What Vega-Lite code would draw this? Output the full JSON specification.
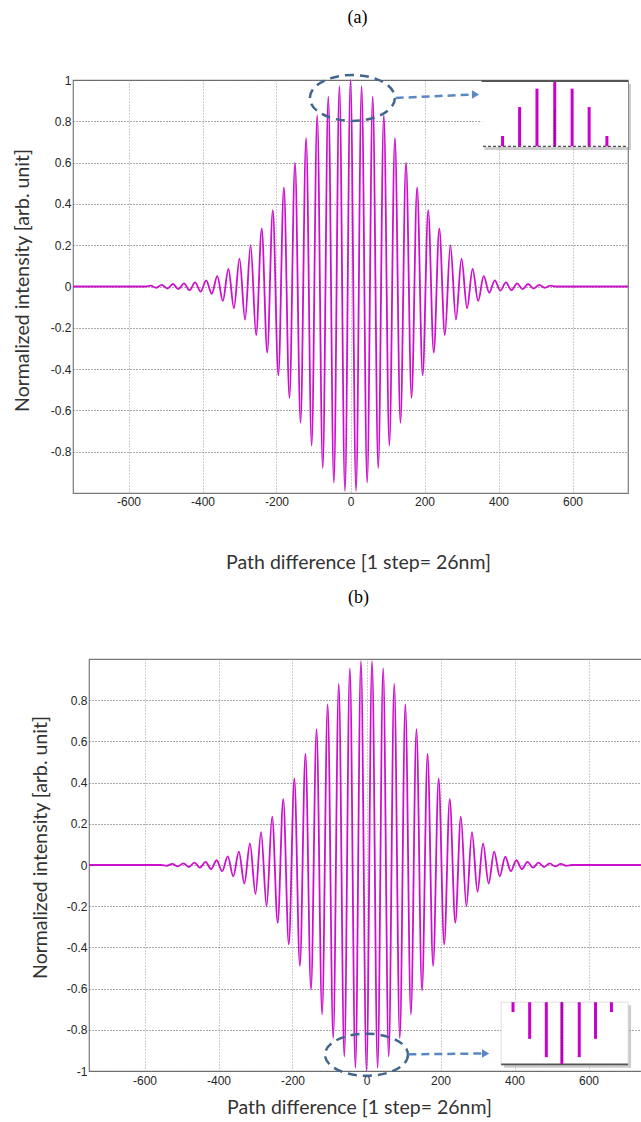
{
  "$schema": "https://vega.github.io/schema/vega-lite/v6.json",
  "background": "white",
  "padding": {"top": 8, "left": 3, "right": 0, "bottom": 0},
  "columns": 1,
  "bounds": "full",
  "spacing": 15,
  "config": {
    "view": {"stroke": "#7a7a7a", "strokeWidth": 1.2},
    "axis": {
      "labelFont": "Liberation Sans", "labelFontSize": 12, "labelColor": "#262626",
      "titleFont": "Lato", "titleFontSize": 19.5, "titleFontWeight": "normal", "titleColor": "#333333",
      "ticks": false, "domain": false, "grid": true, "gridDash": [1, 2], "gridColor": "#555555", "gridOpacity": 1, "gridWidth": 1
    },
    "axisX": {"gridColor": "#9a9a9a"},
    "title": {"font": "Liberation Serif", "fontSize": 18, "fontWeight": "normal", "color": "#000000"}
  },
  "datasets": {
    "a": [
      {"x": -750, "y": 0}, {"x": -555, "y": 0}, {"x": -540, "y": 0.004}, {"x": -525, "y": -0.006}, {"x": -510, "y": 0.008},
      {"x": -495, "y": -0.01}, {"x": -480, "y": 0.012}, {"x": -465, "y": -0.013}, {"x": -450, "y": 0.015}, {"x": -435, "y": -0.018},
      {"x": -420, "y": 0.02}, {"x": -405, "y": -0.025}, {"x": -390, "y": 0.03}, {"x": -375, "y": -0.035}, {"x": -360, "y": 0.05},
      {"x": -345, "y": -0.07}, {"x": -330, "y": 0.085}, {"x": -315, "y": -0.105}, {"x": -300, "y": 0.135}, {"x": -285, "y": -0.16},
      {"x": -270, "y": 0.2}, {"x": -255, "y": -0.235}, {"x": -240, "y": 0.28}, {"x": -225, "y": -0.32}, {"x": -210, "y": 0.37},
      {"x": -195, "y": -0.43}, {"x": -180, "y": 0.48}, {"x": -165, "y": -0.54}, {"x": -150, "y": 0.6}, {"x": -135, "y": -0.66},
      {"x": -120, "y": 0.72}, {"x": -105, "y": -0.77}, {"x": -90, "y": 0.83}, {"x": -75, "y": -0.88}, {"x": -60, "y": 0.92},
      {"x": -45, "y": -0.95}, {"x": -30, "y": 0.97}, {"x": -15, "y": -0.99}, {"x": 0, "y": 1},
      {"x": 15, "y": -0.99}, {"x": 30, "y": 0.97}, {"x": 45, "y": -0.95}, {"x": 60, "y": 0.92}, {"x": 75, "y": -0.88},
      {"x": 90, "y": 0.83}, {"x": 105, "y": -0.77}, {"x": 120, "y": 0.72}, {"x": 135, "y": -0.66}, {"x": 150, "y": 0.6},
      {"x": 165, "y": -0.54}, {"x": 180, "y": 0.48}, {"x": 195, "y": -0.43}, {"x": 210, "y": 0.37}, {"x": 225, "y": -0.32},
      {"x": 240, "y": 0.28}, {"x": 255, "y": -0.235}, {"x": 270, "y": 0.2}, {"x": 285, "y": -0.16}, {"x": 300, "y": 0.135},
      {"x": 315, "y": -0.105}, {"x": 330, "y": 0.085}, {"x": 345, "y": -0.07}, {"x": 360, "y": 0.05}, {"x": 375, "y": -0.03},
      {"x": 390, "y": 0.03}, {"x": 405, "y": -0.02}, {"x": 420, "y": 0.02}, {"x": 435, "y": -0.018}, {"x": 450, "y": 0.015},
      {"x": 465, "y": -0.013}, {"x": 480, "y": 0.012}, {"x": 495, "y": -0.01}, {"x": 510, "y": 0.008}, {"x": 525, "y": -0.006},
      {"x": 540, "y": 0.004}, {"x": 555, "y": 0}, {"x": 750, "y": 0}
    ],
    "b": [
      {"x": -750, "y": 0}, {"x": -555, "y": 0}, {"x": -540, "y": -0.004}, {"x": -525, "y": 0.005}, {"x": -510, "y": -0.007},
      {"x": -495, "y": 0.008}, {"x": -480, "y": -0.01}, {"x": -465, "y": 0.012}, {"x": -450, "y": -0.013}, {"x": -435, "y": 0.015},
      {"x": -420, "y": -0.02}, {"x": -405, "y": 0.023}, {"x": -390, "y": -0.03}, {"x": -375, "y": 0.042}, {"x": -360, "y": -0.055},
      {"x": -345, "y": 0.065}, {"x": -330, "y": -0.09}, {"x": -315, "y": 0.105}, {"x": -300, "y": -0.14}, {"x": -285, "y": 0.16},
      {"x": -270, "y": -0.2}, {"x": -255, "y": 0.235}, {"x": -240, "y": -0.28}, {"x": -225, "y": 0.32}, {"x": -210, "y": -0.385},
      {"x": -195, "y": 0.42}, {"x": -180, "y": -0.49}, {"x": -165, "y": 0.54}, {"x": -150, "y": -0.605}, {"x": -135, "y": 0.66},
      {"x": -120, "y": -0.725}, {"x": -105, "y": 0.78}, {"x": -90, "y": -0.84}, {"x": -75, "y": 0.88}, {"x": -60, "y": -0.93},
      {"x": -45, "y": 0.955}, {"x": -30, "y": -0.985}, {"x": -15, "y": 0.99}, {"x": 0, "y": -1},
      {"x": 15, "y": 0.99}, {"x": 30, "y": -0.985}, {"x": 45, "y": 0.955}, {"x": 60, "y": -0.93}, {"x": 75, "y": 0.88},
      {"x": 90, "y": -0.84}, {"x": 105, "y": 0.78}, {"x": 120, "y": -0.725}, {"x": 135, "y": 0.66}, {"x": 150, "y": -0.61},
      {"x": 165, "y": 0.54}, {"x": 180, "y": -0.49}, {"x": 195, "y": 0.42}, {"x": 210, "y": -0.385}, {"x": 225, "y": 0.32},
      {"x": 240, "y": -0.28}, {"x": 255, "y": 0.235}, {"x": 270, "y": -0.2}, {"x": 285, "y": 0.16}, {"x": 300, "y": -0.13},
      {"x": 315, "y": 0.105}, {"x": 330, "y": -0.09}, {"x": 345, "y": 0.065}, {"x": 360, "y": -0.055}, {"x": 375, "y": 0.04},
      {"x": 390, "y": -0.03}, {"x": 405, "y": 0.023}, {"x": 420, "y": -0.02}, {"x": 435, "y": 0.015}, {"x": 450, "y": -0.013},
      {"x": 465, "y": 0.012}, {"x": 480, "y": -0.01}, {"x": 495, "y": 0.008}, {"x": 510, "y": -0.007}, {"x": 525, "y": 0.005},
      {"x": 540, "y": -0.004}, {"x": 555, "y": 0}, {"x": 750, "y": 0}
    ],
    "insetBoxA": [{"x": 354, "x2": 750, "y": 0.675, "y2": 0.995}],
    "insetTopA": [{"x": 354, "x2": 750, "y": 0.995}],
    "insetBaseA": [{"x": 358, "x2": 750, "y": 0.679}],
    "spikesA": [
      {"x": 411, "y": 0.679, "y2": 0.729}, {"x": 457, "y": 0.679, "y2": 0.869}, {"x": 504, "y": 0.679, "y2": 0.958},
      {"x": 552, "y": 0.679, "y2": 0.99}, {"x": 599, "y": 0.679, "y2": 0.958}, {"x": 645, "y": 0.679, "y2": 0.869},
      {"x": 693, "y": 0.679, "y2": 0.729}
    ],
    "centerA": [{"x": 552, "y": 0.679, "y2": 0.86}],
    "ellipseA": [{"x": 5, "y": 0.913}],
    "arrowA": [{"x": 122, "x2": 334, "y": 0.913, "y2": 0.93}],
    "headA": [{"x": 338, "y": 0.93}],
    "insetBoxB": [{"x": 364, "x2": 707, "y": -0.97, "y2": -0.666}],
    "insetBaseB": [{"x": 364, "x2": 707, "y": -0.968}],
    "spikesB": [
      {"x": 396, "y": -0.666, "y2": -0.714}, {"x": 441, "y": -0.666, "y2": -0.844}, {"x": 486, "y": -0.666, "y2": -0.933},
      {"x": 528, "y": -0.666, "y2": -0.967}, {"x": 575, "y": -0.666, "y2": -0.933}, {"x": 619, "y": -0.666, "y2": -0.844},
      {"x": 662, "y": -0.666, "y2": -0.714}
    ],
    "centerB": [{"x": 528, "y": -0.666, "y2": -0.95}],
    "ellipseB": [{"x": 0, "y": -0.921}],
    "arrowB": [{"x": 113, "x2": 318, "y": -0.919, "y2": -0.915}],
    "headB": [{"x": 322, "y": -0.915}],
    "spacer": [{"x": 0}]
  },
  "concat": [
    {
      "spacing": 0,
      "bounds": "full",
      "columns": 2,
      "align": "each",
      "concat": [
        {"width": 8, "height": 10, "data": {"name": "spacer"}, "view": {"stroke": null},
         "mark": {"type": "point", "opacity": 0}, "encoding": {}},
        {
          "width": 555,
          "height": 413,
          "title": {"text": "(a)", "offset": 43, "anchor": "middle", "dx": 7},
          "encoding": {
            "x": {"field": "x", "type": "quantitative", "scale": {"domain": [-750, 750], "nice": false, "zero": false},
                  "title": "Path difference [1 step= 26nm]",
                  "axis": {"values": [-600, -400, -200, 0, 200, 400, 600], "labelPadding": 3, "titlePadding": 46, "titleX": 285,
                           "labelExpr": "replace(format(datum.value, '~g'), '\u2212', '-')"}},
            "y": {"field": "y", "type": "quantitative", "scale": {"domain": [-1, 1], "nice": false, "zero": false},
                  "title": "Normalized intensity [arb. unit]",
                  "axis": {"values": [-0.8, -0.6, -0.4, -0.2, 0, 0.2, 0.4, 0.6, 0.8, 1], "labelPadding": 2, "titlePadding": 18, "titleY": 200,
                           "labelExpr": "replace(format(datum.value, '~g'), '\u2212', '-')"}}
          },
          "layer": [
            {"data": {"name": "a"}, "mark": {"type": "line", "interpolate": "monotone", "color": "#cc10cc", "strokeWidth": 1.8}},
            {"data": {"name": "insetBoxA"}, "mark": {"type": "rect", "fill": "#8f8f8f", "opacity": 0.45, "xOffset": 3, "x2Offset": 3, "yOffset": 3, "y2Offset": 3},
             "encoding": {"x2": {"field": "x2"}, "y2": {"field": "y2"}}},
            {"data": {"name": "insetBoxA"}, "mark": {"type": "rect", "fill": "white"},
             "encoding": {"x2": {"field": "x2"}, "y2": {"field": "y2"}}},
            {"data": {"name": "insetTopA"}, "mark": {"type": "rule", "color": "#555555", "strokeWidth": 2}, "encoding": {"x2": {"field": "x2"}}},
            {"data": {"name": "insetBaseA"}, "mark": {"type": "rule", "color": "#222222", "strokeWidth": 1, "strokeDash": [3, 2]}, "encoding": {"x2": {"field": "x2"}}},
            {"data": {"name": "spikesA"}, "mark": {"type": "rule", "color": "#cc00cc", "strokeWidth": 3}, "encoding": {"y2": {"field": "y2"}}},
            {"data": {"name": "centerA"}, "mark": {"type": "rule", "color": "#222222", "strokeWidth": 1, "strokeDash": [1, 1.5]}, "encoding": {"y2": {"field": "y2"}}},
            {"data": {"name": "ellipseA"}, "mark": {"type": "point", "filled": false, "stroke": "#41658d", "strokeWidth": 2.5, "strokeDash": [9, 6], "opacity": 1,
              "shape": "M1,0C1,0.298,0.552,0.54,0,0.54C-0.552,0.54,-1,0.298,-1,0C-1,-0.298,-0.552,-0.54,0,-0.54C0.552,-0.54,1,-0.298,1,0Z", "size": 7225}},
            {"data": {"name": "arrowA"}, "mark": {"type": "rule", "color": "#5b88c2", "strokeWidth": 2.5, "strokeDash": [8, 5]},
             "encoding": {"x2": {"field": "x2"}, "y2": {"field": "y2"}}},
            {"data": {"name": "headA"}, "mark": {"type": "point", "shape": "triangle-right", "filled": true, "color": "#5b88c2", "size": 70, "opacity": 1}}
          ]
        }
      ]
    },
    {
      "spacing": 0,
      "bounds": "full",
      "columns": 2,
      "align": "each",
      "concat": [
        {"width": 26, "height": 10, "data": {"name": "spacer"}, "view": {"stroke": null},
         "mark": {"type": "point", "opacity": 0}, "encoding": {}},
        {
          "width": 555,
          "height": 412,
          "title": {"text": "(b)", "offset": 50, "anchor": "middle", "dx": -8},
          "encoding": {
            "x": {"field": "x", "type": "quantitative", "scale": {"domain": [-750, 750], "nice": false, "zero": false},
                  "title": "Path difference [1 step= 26nm]",
                  "axis": {"values": [-600, -400, -200, 0, 200, 400, 600], "labelPadding": 4, "titlePadding": 12, "titleX": 270,
                           "labelExpr": "replace(format(datum.value, '~g'), '\u2212', '-')"}},
            "y": {"field": "y", "type": "quantitative", "scale": {"domain": [-1, 1], "nice": false, "zero": false},
                  "title": "Normalized intensity [arb. unit]",
                  "axis": {"values": [-1, -0.8, -0.6, -0.4, -0.2, 0, 0.2, 0.4, 0.6, 0.8], "labelPadding": 2, "titlePadding": 16, "titleY": 188,
                           "labelExpr": "replace(format(datum.value, '~g'), '\u2212', '-')"}}
          },
          "layer": [
            {"data": {"name": "b"}, "mark": {"type": "line", "interpolate": "monotone", "color": "#cc10cc", "strokeWidth": 1.8}},
            {"data": {"name": "insetBoxB"}, "mark": {"type": "rect", "fill": "#8f8f8f", "opacity": 0.45, "xOffset": 3, "x2Offset": 3, "yOffset": 3, "y2Offset": 3},
             "encoding": {"x2": {"field": "x2"}, "y2": {"field": "y2"}}},
            {"data": {"name": "insetBoxB"}, "mark": {"type": "rect", "fill": "white", "stroke": "#d8d8d8", "strokeWidth": 0.8},
             "encoding": {"x2": {"field": "x2"}, "y2": {"field": "y2"}}},
            {"data": {"name": "insetBaseB"}, "mark": {"type": "rule", "color": "#555555", "strokeWidth": 1.6}, "encoding": {"x2": {"field": "x2"}}},
            {"data": {"name": "spikesB"}, "mark": {"type": "rule", "color": "#cc00cc", "strokeWidth": 3}, "encoding": {"y2": {"field": "y2"}}},
            {"data": {"name": "centerB"}, "mark": {"type": "rule", "color": "#222222", "strokeWidth": 1, "strokeDash": [1, 1.5]}, "encoding": {"y2": {"field": "y2"}}},
            {"data": {"name": "ellipseB"}, "mark": {"type": "point", "filled": false, "stroke": "#41658d", "strokeWidth": 2.5, "strokeDash": [9, 6], "opacity": 1,
              "shape": "M1,0C1,0.28,0.552,0.506,0,0.506C-0.552,0.506,-1,0.28,-1,0C-1,-0.28,-0.552,-0.506,0,-0.506C0.552,-0.506,1,-0.28,1,0Z", "size": 6889}},
            {"data": {"name": "arrowB"}, "mark": {"type": "rule", "color": "#5b88c2", "strokeWidth": 2.5, "strokeDash": [8, 5]},
             "encoding": {"x2": {"field": "x2"}, "y2": {"field": "y2"}}},
            {"data": {"name": "headB"}, "mark": {"type": "point", "shape": "triangle-right", "filled": true, "color": "#5b88c2", "size": 70, "opacity": 1}}
          ]
        }
      ]
    }
  ]
}
